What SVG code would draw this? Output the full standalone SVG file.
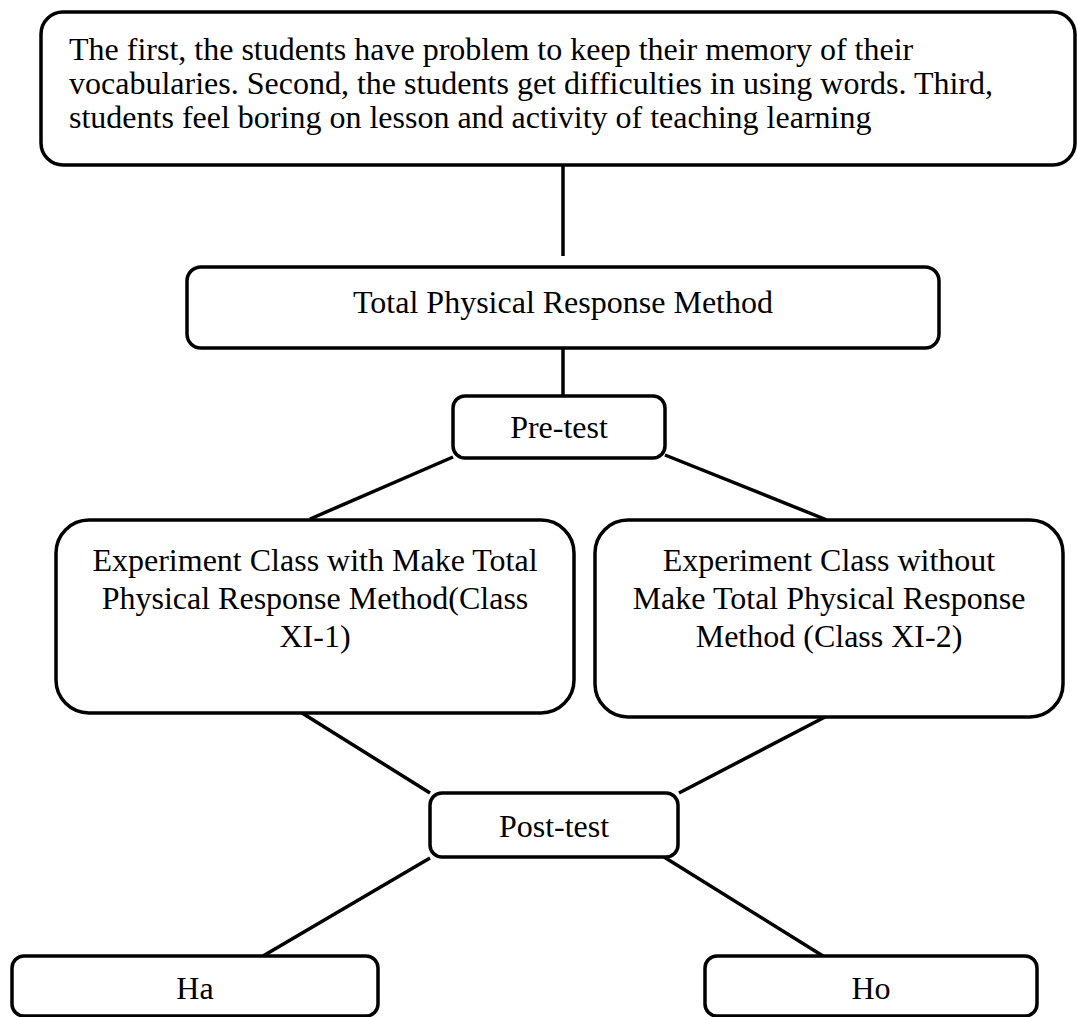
<svg xmlns="http://www.w3.org/2000/svg" width="1078" height="1017" viewBox="0 0 1078 1017">
<style>
.box{fill:#fff;stroke:#000;stroke-width:3.5}
.t{font-family:"Liberation Serif","Times New Roman",serif;font-size:32px;fill:#000}
.c{text-anchor:middle}
.ln{stroke:#000;stroke-width:3.5;fill:none}
</style>
<rect width="1078" height="1017" fill="#fff"/>
<g id="connectors">
<line class="ln" x1="563" y1="165" x2="563" y2="256"/>
<line class="ln" x1="563" y1="348" x2="563" y2="396"/>
<line class="ln" x1="453" y1="457" x2="310" y2="519"/>
<line class="ln" x1="665" y1="455" x2="827" y2="520"/>
<line class="ln" x1="302" y1="713" x2="430" y2="793"/>
<line class="ln" x1="825" y1="717" x2="679" y2="793"/>
<line class="ln" x1="430" y1="858" x2="263" y2="956"/>
<line class="ln" x1="664" y1="857" x2="823" y2="956"/>
</g>
<g id="problem">
<rect class="box" x="41" y="12" width="1034" height="153" rx="22"/>
<text class="t" x="69" y="60">The first, the students have problem to keep their memory of their</text>
<text class="t" x="69" y="94">vocabularies. Second, the students get difficulties in using words. Third,</text>
<text class="t" x="69" y="128">students feel boring on lesson and activity of teaching learning</text>
</g>
<g id="tpr">
<rect class="box" x="187" y="267" width="752" height="81" rx="14"/>
<text class="t c" x="563" y="313">Total Physical Response Method</text>
</g>
<g id="pretest">
<rect class="box" x="453" y="396" width="212" height="62" rx="12"/>
<text class="t c" x="559" y="438">Pre-test</text>
</g>
<g id="class1">
<rect class="box" x="56" y="520" width="518" height="193" rx="33"/>
<text class="t c" x="315" y="571">Experiment Class with Make Total</text>
<text class="t c" x="315" y="609">Physical Response Method(Class</text>
<text class="t c" x="315" y="647">XI-1)</text>
</g>
<g id="class2">
<rect class="box" x="595" y="520" width="468" height="197" rx="33"/>
<text class="t c" x="829" y="571">Experiment Class without</text>
<text class="t c" x="829" y="609">Make Total Physical Response</text>
<text class="t c" x="829" y="647">Method (Class XI-2)</text>
</g>
<g id="posttest">
<rect class="box" x="430" y="793" width="248" height="64" rx="12"/>
<text class="t c" x="554" y="837">Post-test</text>
</g>
<g id="ha">
<rect class="box" x="12" y="956" width="366" height="60" rx="12"/>
<text class="t c" x="195" y="999">Ha</text>
</g>
<g id="ho">
<rect class="box" x="705" y="956" width="332" height="60" rx="12"/>
<text class="t c" x="871" y="999">Ho</text>
</g>
</svg>
